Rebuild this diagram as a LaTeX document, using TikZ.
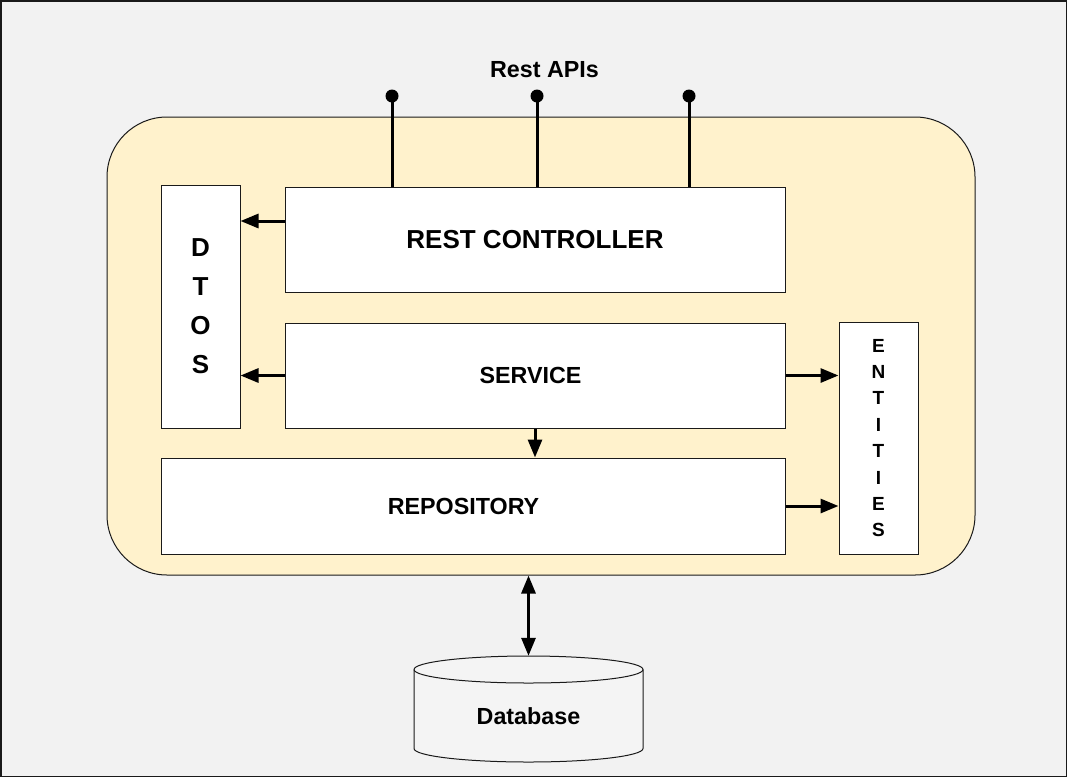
\documentclass[tikz,border=0pt]{standalone}
\usepackage{fontspec}
\setmainfont{Liberation Sans}
\usetikzlibrary{arrows.meta}
\definecolor{bgc}{HTML}{F2F2F2}
\definecolor{appc}{HTML}{FFF2CC}
\definecolor{dbc}{HTML}{F4F4F4}
\definecolor{linec}{HTML}{1A1A1A}
\begin{document}
\begin{tikzpicture}[x=1pt,y=-1pt,
  layerbox/.style={draw=linec, fill=white, line width=1pt, inner sep=0pt,
    font=\bfseries\fontsize{23.3}{28}\selectfont},
  conn/.style={line width=3pt, draw=black, -{Triangle[length=18pt,width=14pt]}},
  dconn/.style={line width=3pt, draw=black, {Triangle[length=18pt,width=14pt]}-{Triangle[length=18pt,width=14pt]}},
  pinline/.style={line width=3pt, draw=black},
  lbl/.style={font=\bfseries\fontsize{23.3}{28}\selectfont, inner sep=0pt}
]
\useasboundingbox (0,0) rectangle (1067,777);
\fill[bgc] (0,0) rectangle (1067,777);
\draw[linec, line width=1.5pt] (0.75,0.75) rectangle (1066.25,776.25);

% application container
\node[draw=linec, fill=appc, line width=1pt, rounded corners=60pt,
      minimum width=868pt, minimum height=458pt] (app) at (541,346) {};

% layers
\node[layerbox, minimum width=500pt, minimum height=105pt,
      font=\bfseries\fontsize{26}{30}\selectfont] (rc) at (535,239.5) {REST CONTROLLER};
\node[layerbox, minimum width=500pt, minimum height=105pt] (svc) at (535,375.5) {\hspace*{-9pt}SERVICE};
\node[layerbox, minimum width=624pt, minimum height=96pt] (repo) at (473,506) {\hspace*{-19pt}REPOSITORY};
\node[layerbox, minimum width=79pt, minimum height=243pt, align=center,
      font=\bfseries\fontsize{26}{39}\selectfont] (dtos) at (200.5,306.5) {D\\T\\O\\S};
\node[layerbox, minimum width=79pt, minimum height=232pt, align=center,
      font=\bfseries\fontsize{19}{26.4}\selectfont] (ent) at (878.5,438) {E\\N\\T\\I\\T\\I\\E\\S};

% Rest API pins
\node[lbl] (apis) at (544.5,70) {Rest APIs};
\coordinate (p1) at (392,96);
\coordinate (p2) at (537,96);
\coordinate (p3) at (689,96);
\draw[pinline] (p1) -- (p1 |- rc.north);
\draw[pinline] (p2) -- (p2 |- rc.north);
\draw[pinline] (p3) -- (p3 |- rc.north);
\fill (p1) circle[radius=6.5pt];
\fill (p2) circle[radius=6.5pt];
\fill (p3) circle[radius=6.5pt];

% connectors
\draw[conn] ([yshift=18.5pt]rc.west) -- ([yshift=18.5pt]rc.west -| dtos.east);
\draw[conn] (svc.west) -- (svc.west -| dtos.east);
\draw[conn] (svc.east) -- (svc.east -| ent.west);
\draw[conn] (svc.south) -- (svc.south |- repo.north);
\draw[conn] (repo.east) -- (repo.east -| ent.west);

% database
\draw[linec, fill=dbc, line width=1pt] (414,669.5) -- (414,748.5)
  arc[start angle=180, end angle=360, x radius=114.5pt, y radius=13.5pt]
  -- (643,669.5)
  arc[start angle=0, end angle=180, x radius=114.5pt, y radius=13.5pt] -- cycle;
\draw[linec, line width=1pt] (414,669.5)
  arc[start angle=180, end angle=360, x radius=114.5pt, y radius=13.5pt];
\node[lbl, minimum width=229pt, minimum height=92.5pt] (db) at (528.5,715.75) {Database};

\draw[dconn] (app.south -| db.north) -- ([yshift=13.5pt]db.north);
\end{tikzpicture}
\end{document}
